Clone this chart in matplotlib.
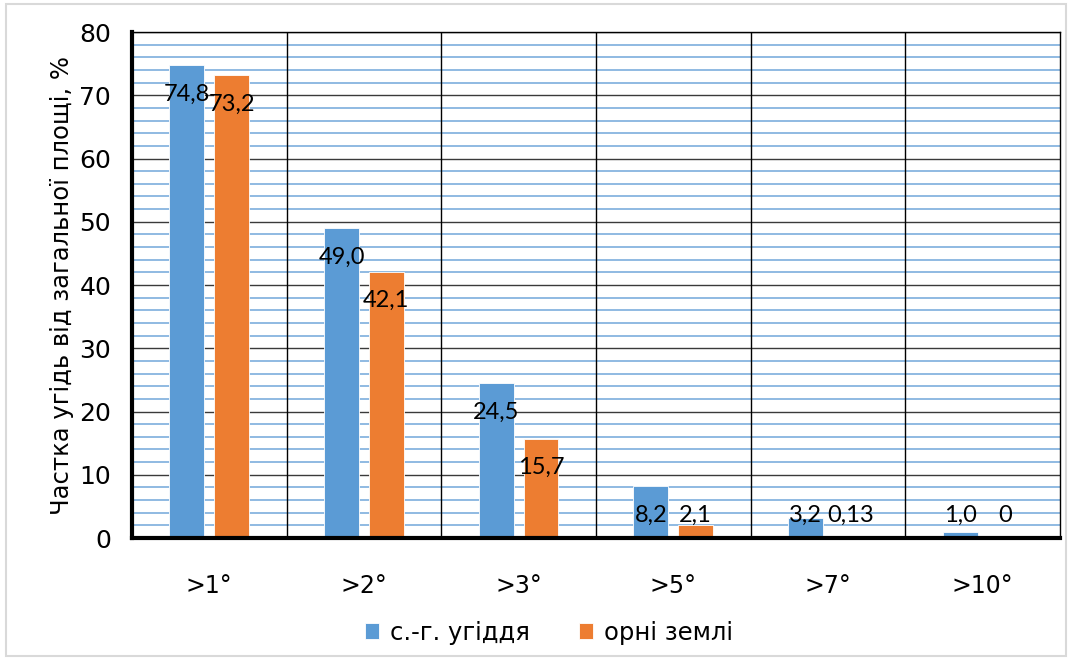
import matplotlib
matplotlib.use("Agg")
import matplotlib.pyplot as plt
import numpy as np
from matplotlib.patches import Rectangle
from matplotlib.ticker import MultipleLocator

categories = [">1°", ">2°", ">3°", ">5°", ">7°", ">10°"]
agri_land = [74.8, 49.0, 24.5, 8.2, 3.2, 1.0]
arable_land = [73.2, 42.1, 15.7, 2.1, 0.13, 0.0]
agri_labels = ["74,8", "49,0", "24,5", "8,2", "3,2", "1,0"]
arable_labels = ["73,2", "42,1", "15,7", "2,1", "0,13", "0"]
series_names = ["с.-г. угіддя", "орні землі"]

BLUE = "#5B9BD5"
ORANGE = "#ED7D31"

plt.rcParams["font.family"] = ["DejaVu Sans"]

fig = plt.figure(figsize=(10.72, 6.60), dpi=100)
ax = fig.add_axes([0.1231, 0.1848, 0.8657, 0.7667])

x = np.arange(len(categories))
width = 0.225
offset = 0.145

ax.bar(x - offset, agri_land, width, color=BLUE, label=series_names[0], zorder=3,
       edgecolor="white", linewidth=0.6)
ax.bar(x + offset, arable_land, width, color=ORANGE, label=series_names[1], zorder=3,
       edgecolor="white", linewidth=0.6)

ax.set_xlim(-0.5, len(categories) - 0.5)
ax.set_ylim(0, 80)

# gridlines: blue minor every 2, dark major every 10
ax.yaxis.set_major_locator(MultipleLocator(10))
ax.yaxis.set_minor_locator(MultipleLocator(2))
ax.grid(which="minor", axis="y", color="#7DAEDD", linewidth=1.2, zorder=1)
ax.grid(which="major", axis="y", color="#3A3A3A", linewidth=1.0, zorder=2)
for b in np.arange(-0.5, len(categories), 1.0)[1:-1]:
    ax.axvline(b, color="black", linewidth=1.0, zorder=2)

for side in ["top", "right"]:
    ax.spines[side].set_color("black")
    ax.spines[side].set_linewidth(1.0)
ax.spines["left"].set_linewidth(3.0)
ax.spines["bottom"].set_linewidth(3.0)
ax.spines["left"].set_zorder(4)
ax.spines["bottom"].set_zorder(4)

ax.tick_params(axis="y", which="both", length=0, labelsize=18, pad=15)
ax.tick_params(axis="x", length=0, labelsize=17, pad=26)
ax.set_xticks(x)
ax.set_xticklabels(categories)
ax.set_ylabel("Частка угідь від загальної площі, %", fontsize=17.5, labelpad=4)

# value labels near the top of each bar
for xi, v, t in zip(x, agri_land, agri_labels):
    ax.text(xi - offset, max(v - 4.6, 3.6), t, ha="center", va="center",
            fontsize=17, zorder=5, family=["Lato", "DejaVu Sans"])
for xi, v, t in zip(x, arable_land, arable_labels):
    ax.text(xi + offset, max(v - 4.6, 3.6), t, ha="center", va="center",
            fontsize=17, zorder=5, family=["Lato", "DejaVu Sans"])

fig.legend(loc="lower center", bbox_to_anchor=(0.512, -0.01), ncol=2, frameon=False,
           fontsize=17.5, handlelength=0.6, handleheight=0.6, columnspacing=2.0,
           handletextpad=0.45)

fig.patches.append(Rectangle((0.006, 0.006), 0.988, 0.988, transform=fig.transFigure,
                             fill=False, edgecolor="#D9D9D9", linewidth=1.5))

fig.savefig("out.png", dpi=100, facecolor="white")
